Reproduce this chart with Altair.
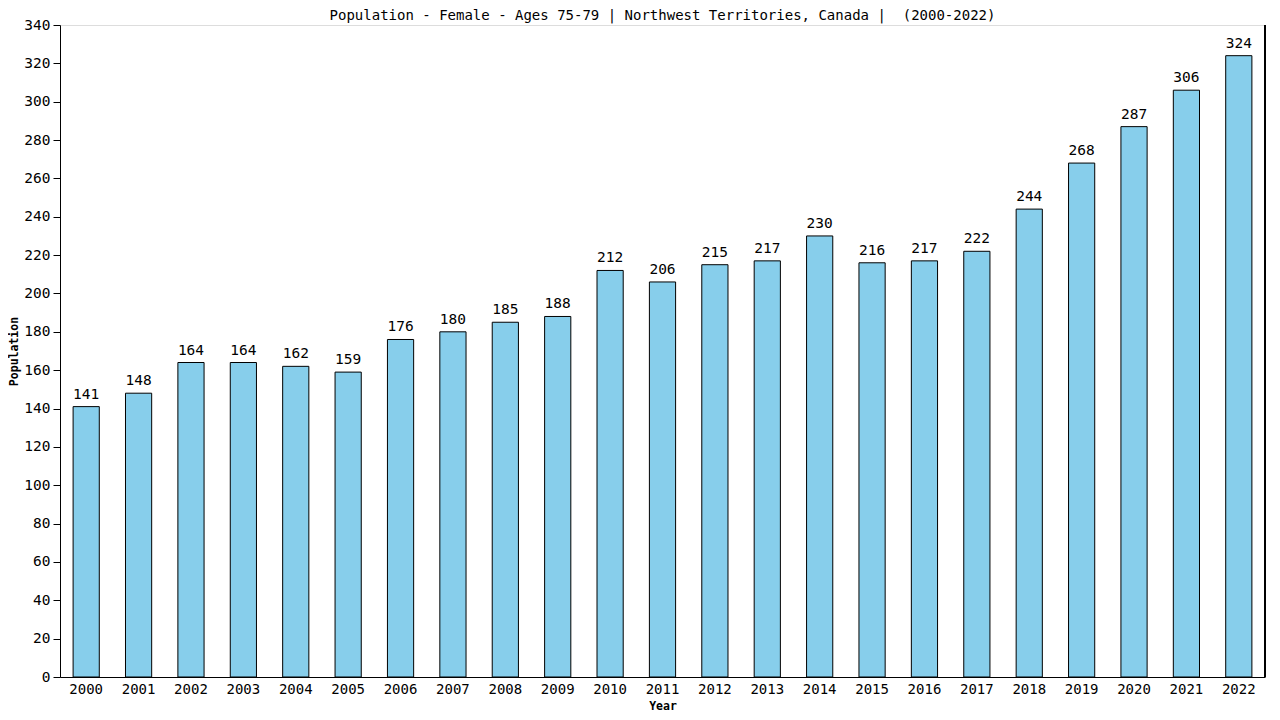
import altair as alt
import pandas as pd

years = [str(y) for y in range(2000, 2023)]
values = [141, 148, 164, 164, 162, 159, 176, 180, 185, 188, 212, 206, 215, 217, 230, 216, 217, 222, 244, 268, 287, 306, 324]
y_ticks = list(range(0, 341, 20))

df = pd.DataFrame({"Year": years, "Population": values})
FONT = "DejaVu Sans Mono"

base = alt.Chart(df).encode(
    x=alt.X("Year:N", title="Year",
            scale=alt.Scale(paddingInner=0.5, paddingOuter=0.25),
            axis=alt.Axis(labelAngle=0, ticks=False, labelPadding=5, labelFontSize=14,
                          labelFont=FONT, labelColor="black", titleFont=FONT, titleFontSize=11.5,
                          titleFontWeight="bold", titleColor="black", domainColor="black",
                          titlePadding=4, labelOverlap=False)),
    y=alt.Y("Population:Q", title="Population",
            scale=alt.Scale(domain=[0, 340], nice=False),
            axis=alt.Axis(values=y_ticks, tickCount=len(y_ticks), grid=False, labelFontSize=14.5,
                          labelFont=FONT, labelColor="black", titleFont=FONT, titleFontSize=11.5,
                          titleFontWeight="bold", titleColor="black", domainColor="black",
                          tickColor="black", tickSize=7, titlePadding=4, labelOverlap=False,
                          labelPadding=3)),
)

bars = base.mark_bar(color="#87CEEB", stroke="black", strokeWidth=1)

labels = base.mark_text(dy=-12, font=FONT, fontSize=14.5, color="black").encode(
    text="Population:Q"
)

right = alt.Chart(df).mark_rule(color="black").encode(
    x=alt.value(1205), y=alt.value(0), y2=alt.value(652)
)

chart = (bars + labels + right).properties(
    width=1205, height=652,
    title=alt.TitleParams("Population - Female - Ages 75-79 | Northwest Territories, Canada | \u00a0(2000-2022)",
                          font=FONT, fontSize=14, fontWeight="normal", color="black", offset=3, dy=9),
    autosize=alt.AutoSizeParams(type="none"),
    padding={"left": 52, "top": 17, "right": 7, "bottom": 35},
).configure_view(stroke=None).configure(background="white")

chart.save("out.html", embed_options={"renderer": "svg", "actions": False})
